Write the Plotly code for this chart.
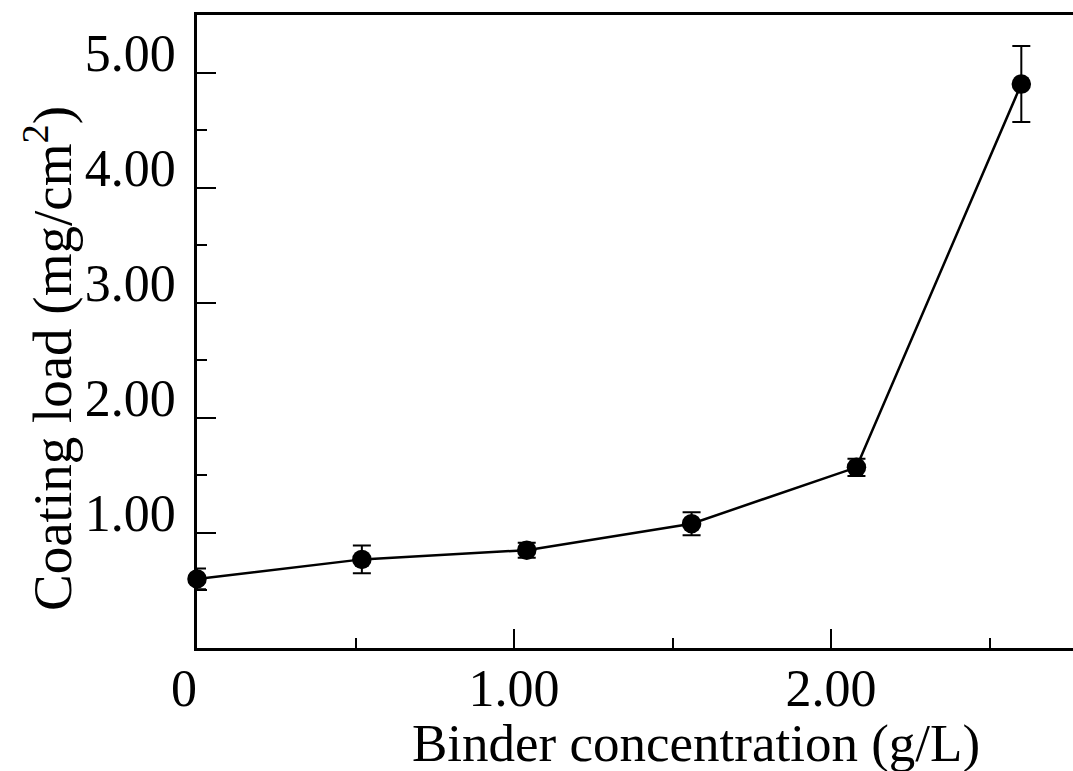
import plotly.graph_objects as go

# Data
binder_conc = [0.0, 0.52, 1.04, 1.56, 2.08, 2.60]          # g/L
coating_load = [0.60, 0.77, 0.85, 1.08, 1.57, 4.90]        # mg/cm^2
coating_err = [0.09, 0.12, 0.065, 0.10, 0.075, 0.33]

x_tickvals = [0, 1, 2]
x_ticktext = ["0\u00a0\u00a0", "1.00", "2.00"]
x_minor = [0.5, 1.5, 2.5]
y_tickvals = [1, 2, 3, 4, 5]
y_ticktext = ["1.00", "2.00", "3.00", "4.00", "5.00"]
y_minor = [0.5, 1.5, 2.5, 3.5, 4.5]

FONT = "Liberation Serif, Times New Roman, serif"

fig = go.Figure()
fig.add_trace(go.Scatter(
    x=binder_conc, y=coating_load,
    mode="lines+markers",
    line=dict(color="black", width=2.5),
    marker=dict(color="black", size=19.5, symbol="circle"),
    error_y=dict(type="data", array=coating_err, visible=True,
                 color="black", thickness=2, width=9),
    cliponaxis=False,
    showlegend=False,
))

fig.update_layout(
    width=1073, height=771,
    margin=dict(l=197, r=0, t=15, b=123),
    paper_bgcolor="white", plot_bgcolor="white",
    font=dict(family=FONT, color="black", size=52),
    xaxis=dict(
        range=[0, 2.763], showgrid=False, zeroline=False,
        showline=True, linecolor="black", linewidth=2.5, mirror=True,
        tickmode="array", tickvals=x_tickvals, ticktext=x_ticktext,
        ticks="inside", ticklen=19, tickwidth=2, tickcolor="black",
        tickfont=dict(family=FONT, size=52, color="black"),
        ticklabelstandoff=-7,
        minor=dict(tickmode="array", tickvals=x_minor, ticks="inside",
                   ticklen=10, tickwidth=2, tickcolor="black", showgrid=False),
    ),
    yaxis=dict(
        range=[0, 5.5], showgrid=False, zeroline=False,
        showline=True, linecolor="black", linewidth=2.5, mirror=False,
        tickmode="array", tickvals=y_tickvals, ticktext=y_ticktext,
        ticks="inside", ticklen=19, tickwidth=2, tickcolor="black",
        tickfont=dict(family=FONT, size=52, color="black"),
        ticklabelshift=-20, ticklabelstandoff=8,
        minor=dict(tickmode="array", tickvals=y_minor, ticks="inside",
                   ticklen=10, tickwidth=2, tickcolor="black", showgrid=False),
    ),
    annotations=[
        dict(text="Binder concentration (g/L)", xref="paper", yref="paper",
             x=(696 - 197) / 876, y=-(743 - 648) / 633, xanchor="center", yanchor="middle",
             showarrow=False, font=dict(family=FONT, size=53, color="black")),
        dict(text="Coating load (mg/cm<sup>2</sup>)", xref="paper", yref="paper",
             x=-(197 - 48) / 876, y=(648 - 359) / 633, xanchor="center", yanchor="middle",
             textangle=-90, showarrow=False,
             font=dict(family=FONT, size=55, color="black")),
    ],
)

fig.write_html("out.html", config={"displayModeBar": False},
               post_script="document.body.style.margin='0';")
